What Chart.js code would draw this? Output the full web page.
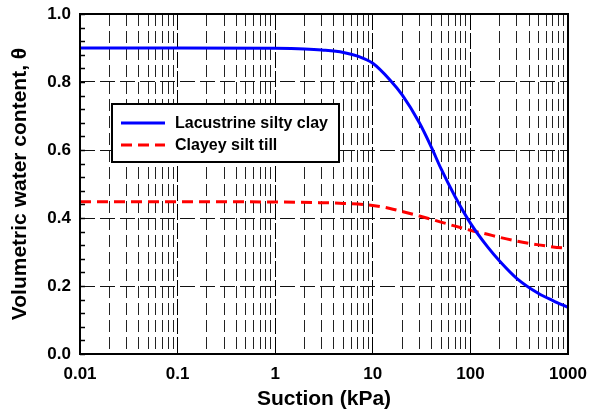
<!DOCTYPE html>
<html>
<head>
<meta charset="utf-8">
<script src="https://cdn.jsdelivr.net/npm/chart.js@4.4.1/dist/chart.umd.min.js"></script>
<style>
  html, body { margin: 0; padding: 0; background: #fff; }
  #wrap { width: 589px; height: 416px; }
</style>
</head>
<body>
<div id="wrap"><canvas id="chart"></canvas></div>
<script>
// values
const xTickLabels = ['0.01', '0.1', '1', '10', '100', '1000'];
const yTickLabels = ['0.0', '0.2', '0.4', '0.6', '0.8', '1.0'];

const clayLabel = 'Lacustrine silty clay';
const claySuction = [0.01, 0.1, 1, 2, 3, 5, 7, 10, 15, 20, 30, 40, 50, 70, 100, 150, 200, 300, 500, 700, 1000];
const clayTheta = [0.9, 0.9, 0.899, 0.897, 0.894, 0.887, 0.876, 0.855, 0.806, 0.762, 0.68, 0.607, 0.545, 0.462, 0.385, 0.315, 0.273, 0.222, 0.178, 0.157, 0.137];

const tillLabel = 'Clayey silt till';
const tillSuction = [0.01, 0.1, 1, 3, 5, 10, 15, 20, 30, 50, 70, 100, 150, 200, 300, 500, 700, 1000];
const tillTheta = [0.448, 0.448, 0.447, 0.445, 0.443, 0.437, 0.428, 0.419, 0.406, 0.388, 0.376, 0.364, 0.352, 0.343, 0.332, 0.321, 0.315, 0.311];

const FONT = '"Liberation Sans", Arial, Helvetica, sans-serif';

// log grid: 1..9 per decade
const decades = xTickLabels.map(Number);
const xTicks = [];
decades.forEach((d, i) => {
    if (i == decades.length - 1) { xTicks.push(d); return; }
    for (let m = 1; m < 10; m++) xTicks.push(d * m);
});
function isDecade(v) {
    const l = Math.log10(v);
    return Math.abs(l - Math.round(l)) < 1e-6;
}

const toPoints = (xs, ys) => xs.map((x, i) => ({ x: x, y: ys[i] }));

const framePlugin = {
    id: 'frame',
    afterDatasetsDraw(chart) {
        const { ctx, chartArea: a, scales } = chart;
        ctx.save();
        // minor inward ticks on the left axis
        ctx.strokeStyle = '#000';
        ctx.lineWidth = 1.5;
        for (let i = 0; i <= 25; i++) {
            const py = Math.round(scales.y.getPixelForValue(i * 0.04)) + 0.5;
            ctx.beginPath();
            ctx.moveTo(a.left, py);
            ctx.lineTo(a.left + 5, py);
            ctx.stroke();
        }
        ctx.lineWidth = 2;
        ctx.strokeRect(a.left, a.top, a.right - a.left, a.bottom - a.top);
        ctx.restore();
    }
};

const legendPlugin = {
    id: 'boxLegend',
    afterDraw(chart) {
        const { ctx } = chart;
        const box = { x: 112, y: 104, w: 227, h: 58 };
        ctx.save();
        ctx.fillStyle = '#fff';
        ctx.fillRect(box.x, box.y, box.w, box.h);
        ctx.strokeStyle = '#000';
        ctx.lineWidth = 2;
        ctx.strokeRect(box.x, box.y, box.w, box.h);
        chart.data.datasets.forEach((ds, i) => {
            const ly = 123 + i * 22;
            ctx.beginPath();
            ctx.strokeStyle = ds.borderColor;
            ctx.lineWidth = ds.borderWidth;
            ctx.setLineDash(ds.borderDash || []);
            ctx.moveTo(121, ly);
            ctx.lineTo(165, ly);
            ctx.stroke();
            ctx.setLineDash([]);
            ctx.fillStyle = '#000';
            ctx.font = 'bold 16px ' + FONT;
            ctx.textBaseline = 'middle';
            ctx.fillText(ds.label, 175, ly + 1);
        });
        ctx.restore();
    }
};

new Chart(document.getElementById('chart'), {
    type: 'line',
    data: {
        datasets: [{
            label: clayLabel,
            data: toPoints(claySuction, clayTheta),
            borderColor: '#0000ff',
            borderWidth: 3,
            pointRadius: 0,
            cubicInterpolationMode: 'monotone',
            fill: false
        }, {
            label: tillLabel,
            data: toPoints(tillSuction, tillTheta),
            borderColor: '#ff0000',
            borderWidth: 3,
            borderDash: [11, 6],
            pointRadius: 0,
            cubicInterpolationMode: 'monotone',
            fill: false
        }]
    },
    options: {
        responsive: true,
        maintainAspectRatio: false,
        animation: false,
        layout: { padding: { left: 0, top: 14, right: 21, bottom: 0 } },
        plugins: { legend: { display: false }, tooltip: { enabled: false } },
        scales: {
            x: {
                type: 'logarithmic',
                min: 0.01,
                max: 1000,
                afterBuildTicks: s => { s.ticks = xTicks.map(v => ({ value: v })); },
                afterFit: s => { s.height = 62; s.paddingLeft = 0; s.paddingRight = 0; },
                ticks: {
                    autoSkip: false,
                    maxRotation: 0,
                    padding: 10,
                    color: '#000',
                    font: { family: FONT, size: 17, weight: 'bold' },
                    callback: v => isDecade(v) ? xTickLabels[decades.findIndex(d => Math.abs(d - v) < d * 1e-6)] : ''
                },
                grid: {
                    drawTicks: false,
                    lineWidth: 1,
                    color: ctx => isDecade(ctx.tick.value) ? '#000' : '#222'
                },
                border: {
                    display: false,
                    dash: ctx => (ctx.tick && isDecade(ctx.tick.value)) ? [16, 3] : [12, 5]
                },
                title: {
                    display: true,
                    text: 'Suction (kPa)',
                    color: '#000',
                    padding: { top: 0, bottom: 4 },
                    font: { family: FONT, size: 21, weight: 'bold' }
                }
            },
            y: {
                min: 0,
                max: 1,
                afterBuildTicks: s => { s.ticks = yTickLabels.map(v => ({ value: Number(v) })); },
                afterFit: s => { s.width = 80; s.paddingTop = 0; s.paddingBottom = 0; },
                ticks: {
                    padding: 9,
                    color: '#000',
                    font: { family: FONT, size: 17, weight: 'bold' },
                    callback: v => v.toFixed(1)
                },
                grid: {
                    drawTicks: false,
                    lineWidth: 1,
                    color: '#111'
                },
                border: { display: false, dash: [15, 5] },
                title: {
                    display: true,
                    text: 'Volumetric water content, θ',
                    color: '#000',
                    padding: { top: 8, bottom: 0 },
                    font: { family: FONT, size: 21, weight: 'bold' }
                }
            }
        }
    },
    plugins: [framePlugin, legendPlugin]
});
</script>
</body>
</html>
